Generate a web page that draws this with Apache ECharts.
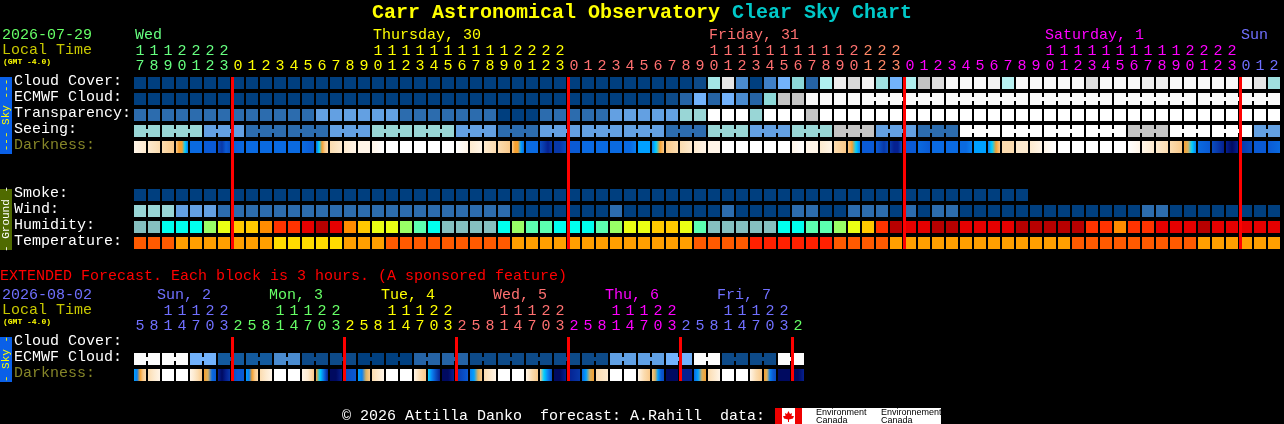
<!DOCTYPE html>
<html><head><meta charset="utf-8">
<style>html,body{margin:0;padding:0;background:#000;overflow:hidden}#c{width:1284px;height:424px}</style>
<script src="https://cdn.jsdelivr.net/npm/echarts@6/dist/echarts.min.js"></script>
</head><body><div id="c"></div>
<script>
// ---------- hourly forecast data ----------
const hours = [17,18,19,20,21,22,23,
 0,1,2,3,4,5,6,7,8,9,10,11,12,13,14,15,16,17,18,19,20,21,22,23,
 0,1,2,3,4,5,6,7,8,9,10,11,12,13,14,15,16,17,18,19,20,21,22,23,
 0,1,2,3,4,5,6,7,8,9,10,11,12,13,14,15,16,17,18,19,20,21,22,23,
 0,1,2];
const hourRows = ['Cloud Cover:','ECMWF Cloud:','Transparency:','Seeing:','Darkness:','','','Smoke:','Wind:','Humidity:','Temperature:'];
const midnights = [7,31,55,79];
const dayNames = [[0,'Wed'],[17,'Thursday, 30'],[41,'Friday, 31'],[65,'Saturday, 1'],[79,'Sun']];
// percent cover
const cloudCover = [0,0,0,0,0,0,0,0,0,0,0,0,0,0,0,0,0,0,0,0,0,0,0,0,0,0,0,0,0,0,0,0,0,0,0,0,0,0,0,0,
 5,45,75,25,0,20,30,35,15,50,80,65,85,40,30,50,60,70,90,90,90,85,55,90,90,90,90,90,70,90,90,90,80,80,90,90,90,90,90,90,75,40];
const ecmwfCloud = [0,0,0,0,0,0,0,0,0,0,0,0,0,0,0,0,0,0,0,0,0,0,0,0,0,0,0,0,0,0,0,0,0,0,0,0,0,0,
 5,15,30,15,30,25,15,35,60,60,
 90,90,90,90,90,90,90,90,90,90,90,90,90,90,90,90,90,90,90,90,90,90,90,90,90,90,90,90,90,90,90,90,90,90];
// sky class 0 best .. 5 worst
const transparency = [1,1,1,1,1,1,1,1,1,1,1,1,1,2,2,2,2,2,2,1,1,1,1,1,1,1,0,0,0,1,1,1,1,1,2,2,2,2,2,3,3,
 5,5,5,3,5,5,5,4,5,5,5,5,5,5,5,5,5,5,5,5,5,5,5,5,5,5,5,5,5,5,5,5,5,5,5,5,5,5,5,5,5];
const seeing = [3,3,3,3,3,2,2,2,1,1,1,1,1,1,2,2,2,3,3,3,3,3,3,2,2,2,1,1,1,2,2,2,2,2,2,2,2,2,1,1,1,3,3,3,2,2,2,3,3,3,
 4,4,4,2,2,2,1,1,1,5,5,5,5,5,5,5,5,5,5,5,5,4,4,4,5,5,5,5,5,5,2,2];
const smoke = [0,0,0,0,0,0,0,0,0,0,0,0,0,0,0,0,0,0,0,0,0,0,0,0,0,0,0,0,0,0,0,0,0,0,0,0,0,0,0,0,0,0,0,0,0,0,0,0,0,0,0,0,0,0,0,0,0,0,0,0,0,0,0,0];
const wind = [3,3,3,2,2,2,
 1,1,1,1,1,1,1,1,1,1,1,1,1,1,1,1,1,1,1,1,1,
 0,0,0,0,0,0,0,1,0,0,0,0,0,0,0,1,0,0,0,0,1,1,0,0,1,
 1,1,0,1,0,1,1,
 0,0,0,0,0,0,0,0,0,0,0,0,0,
 1,1,
 0,0,0,0,0,0,0,0];
const humidity = [30,30,40,40,40,50,55,60,60,65,70,70,85,95,85,65,60,55,55,50,45,
 40,30,30,30,30,40,50,45,45,40,40,40,45,50,55,55,60,60,55,45,
 30,30,30,30,30,40,40,45,45,50,55,
 60,70,95,85,85,95,95,85,85,85,85,95,95,95,95,95,70,70,65,70,70,85,85,85,95,85,85,85,85,85];
const temperature = [30,30,30,25,25,25,25,25,25,25,20,20,20,20,20,25,25,25,30,30,30,
 30,30,30,30,30,30,25,25,25,25,25,25,25,25,25,25,25,25,25,30,30,30,30,
 35,35,35,35,35,35,30,30,30,30,
 25,25,25,25,25,25,25,25,25,25,25,25,25,30,30,30,30,30,30,30,30,30,25,25,25,25,25,25];
// darkness: sky brightness class samples across each hour (0 daylight .. 15 darkest)
const darkness = [[1,2],[2,3],[3,4],[4,5,5,7,9],[10,10],[11,11],[12,13,11,12],[11,10],[10,10],[10,10],[10,10],[10,10],[10,11],
 [10,7,5,4,3],[3,2],[2,1],[1,1],[1,0],[0,0],[0,0],[0,0],[0,0],[0,0],
 [0,1],[2,1],[2,3],[3,4],[4,5,5,8,10],[10,10],[12,13,14,13],[13,13,12],[11,11],[10,10],[10,10],[10,10],[10,10,9],[8,8],[9,7,5,4],
 [4,3],[3,2],[2,1],[1,1],[0,0],[0,0],[0,0],[0,0],[0,0],[1,0],[1,1],[2,1],[3,4],[4,5,7,9],
 [11,11],[11,12,13,12],[13,14,14,12],[11,11],[10,11],[10,10],[10,10],[10,10,9],[8,8],[9,7,5,4],
 [3,3],[2,2],[2,1],[1,0],[0,0],[0,0],[0,0],[0,0],[0,0],[0,1],[1,2],[2,3],[3,4],[5,6,7,9],[10,11],[12,13,14],[14,15,14],[13,12],[11,11],[11,10]];

// ---------- extended forecast data ----------
const extHours = [5,8,11,14,17,20,23,2,5,8,11,14,17,20,23,2,5,8,11,14,17,20,23,2,5,8,11,14,17,20,23,2,5,8,11,14,17,20,23,2,5,8,11,14,17,20,23,2];
const extRows = ['Cloud Cover:','ECMWF Cloud:','Darkness:'];
const extMidnights = [7,15,23,31,39,47];
const extDayNames = [[2,'Sun, 2'],[10,'Mon, 3'],[18,'Tue, 4'],[26,'Wed, 5'],[34,'Thu, 6'],[42,'Fri, 7']];
const extEcmwf = [100,100,100,100,30,30,10,10,10,10,25,25,5,5,5,5,0,0,0,0,15,15,15,15,5,5,5,5,5,5,5,5,5,5,28,28,28,28,30,30,100,100,5,5,5,5,100,100];
const extDarkness = [[8,9,5,4,3],[3,2,1],[0,0],[0,0],[1,2,3,4],[5,6,10,11],[14,15,14,13],[12,11,11],
 [8,9,5,4,3],[3,2,1],[0,0],[0,0],[1,2,4],[5,7,10,14],[15,15,14],[12,11],
 [8,9,6,4],[3,1],[0,0],[0,0],[1,3,4],[7,9,12,14],[15,15,14],[13,11],
 [9,8,6,4],[3,1],[0,0],[0,0],[1,3,4],[4,7,9,12],[15,15,14],[14,13],
 [10,8,6,5],[3,2],[0,0],[0,0],[1,3,4],[4,6,8,11,12],[15,15,15],[14,14],
 [10,8,6,5],[3,1],[0,0],[0,0],[1,3,4],[5,6,9,11,12],[15,15],[15,15,14]];

// ---------- colour scales ----------
const cloudScale = {0:'#003f7f',5:'#0d4a88',10:'#135a9e',15:'#2563a5',20:'#3f80c8',25:'#4a8bcf',28:'#60a0e4',30:'#72b2fb',35:'#8dd8d8',40:'#a0e0e0',45:'#a4e5e5',50:'#b0f0f0',55:'#b8f2f2',60:'#c4c4c4',65:'#d8d8d8',70:'#dddddd',75:'#e6e6e6',80:'#eeeeee',85:'#f2f2f2',90:'#f9f9f9',100:'#fcfcfc'};
const skyScale = ['#003f7f','#2c6cae','#63a0e2','#99d6d6','#c4c4c4','#ffffff'];
const humidityScale = {30:'#85bfbf',40:'#00ffee',45:'#5cffb0',50:'#99ff66',55:'#eaff14',60:'#ffc800',65:'#ff8c00',70:'#ff3300',85:'#e60000',95:'#b80000'};
const tempScale = {20:'#ffdc00',25:'#ff9f00',30:'#ff5a00',35:'#ff2000'};
const darkScale = ['#ffffff','#fff5e8','#fdeacf','#fbdcb0','#f9c98a','#f5a030','#d8b060','#00d0ff','#00a0ff','#0a80f0','#0a6ae0','#0a5ad4','#0a4cc0','#0838a8','#052090','#000a60'];
const MONO = '"Liberation Mono",monospace';
const C = {wed:'#66ff80',thu:'#ffff00',fri:'#ff7070',friLate:'#ff8866',sat:'#ff00ff',sun:'#7070ff',mon:'#66ff66',olive:'#c8c800',dark:'#858528',red:'#ff0000'};

function hourColor(i){ return i<7?C.wed: i<31?C.thu: i<52?C.fri: i<55?C.friLate: i<79?C.sat: C.sun; }
function extUnitColor(i){ return [C.sun,C.mon,C.thu,C.fri,C.sat,C.sun,C.mon][Math.floor((i+1)/8)]; }
function extTensColor(i){ return [C.sun,C.mon,C.thu,C.fri,C.sat,C.sun][Math.floor(i/8)]; }
const tens = h => h>=10 ? String(Math.floor(h/10)) : '';
const units = h => String(h%10);

// horizontal gradient from sample classes
function gradient(s){
  return {type:'linear',x:0,y:0,x2:1,y2:0,global:false,
    colorStops:s.map((v,k)=>({offset:k/(s.length-1),color:darkScale[v]}))};
}
function cellSeries(gridAxis,row,values,fillOf,joined){
  return {type:'custom',xAxisIndex:gridAxis,yAxisIndex:gridAxis===0?0:1,clip:false,silent:true,z:2,
    data:values.map((v,i)=>[i,row]),
    renderItem(p,api){
      const i=api.value(0), c=api.coord([i,api.value(1)]), sz=api.size([1,1]);
      const w=sz[0]-2,h=sz[1]-4,x=c[0]-w/2,y=c[1]-h/2,fill=fillOf(values[i]);
      const kids=[{type:'rect',shape:{x,y,width:w,height:h},style:{fill}}];
      if(joined&&joined(i)) kids.push({type:'rect',shape:{x:x+w,y:y+4,width:2,height:4},style:{fill}});
      return {type:'group',children:kids};
    }};
}
function midnightSeries(axis,list,lastRow){
  return {type:'custom',xAxisIndex:axis,yAxisIndex:axis===0?0:1,clip:false,silent:true,z:5,
    data:list.map(i=>[i,0]),
    renderItem(p,api){
      const c=api.coord([api.value(0),0]),e=api.coord([api.value(0),lastRow]),sz=api.size([1,1]);
      return {type:'rect',shape:{x:c[0]-sz[0]/2,y:c[1]-sz[1]/2+2,width:3,height:e[1]-c[1]+sz[1]-4},style:{fill:C.red}};
    }};
}
function daySeries(axis,list,colors,dx,dy){
  return {type:'custom',xAxisIndex:axis,yAxisIndex:axis===0?0:1,clip:false,silent:true,
    data:list.map((d,k)=>[d[0],0,k]),
    renderItem(p,api){
      const k=api.value(2),c=api.coord([api.value(0),0]);
      return {type:'text',style:{x:c[0]+dx,y:c[1]+dy,text:list[k][1],fill:colors[k],font:'15px '+MONO,verticalAlign:'middle'}};
    }};
}
function xAxisFor(grid,labels,margin,colorFn){
  return {type:'category',gridIndex:grid,position:'top',data:labels,boundaryGap:true,
    axisLine:{show:false},axisTick:{show:false},splitLine:{show:false},
    axisLabel:{show:true,interval:0,margin,color:(v,i)=>colorFn(i),fontFamily:MONO,fontSize:15,verticalAlign:'middle',hideOverlap:false}};
}
const rowText = {fontFamily:MONO,fontSize:15,padding:[0,0,4,0]};
function yAxisFor(grid,labels){
  return {type:'category',gridIndex:grid,inverse:true,data:labels,
    axisLine:{show:false},axisTick:{show:false},splitLine:{show:false},
    axisLabel:{show:true,interval:0,margin:119,align:'left',verticalAlign:'middle',hideOverlap:false,
      formatter:v=>v?(v==='Darkness:'?'{d|'+v+'}':'{w|'+v+'}'):'',
      rich:{w:Object.assign({color:'#ffffff'},rowText),d:Object.assign({color:C.dark},rowText)}}};
}
const sky = v=>skyScale[v], cloud=v=>cloudScale[v];
const seeingJoin = i=>(i-1)%3!==0 && i<81;
const ecmwfJoin = i=>i>=52 && i<81 && (i-51)%6!==0;
const extJoin = i=>i%2===0;

const option = {
  backgroundColor:'#000',animation:false,
  grid:[{left:133,top:75,width:1148,height:176},{left:133,top:335,width:672,height:48}],
  title:{left:372,top:1,padding:0,text:'{a|Carr Astronomical Observatory }{b|Clear Sky Chart}',
    textStyle:{rich:{a:{color:'#ffff00',fontFamily:MONO,fontSize:20,fontWeight:'bold',lineHeight:24},
                     b:{color:'#00c8c8',fontFamily:MONO,fontSize:20,fontWeight:'bold',lineHeight:24}}}},
  xAxis:[xAxisFor(0,hours.map(units),9,hourColor),
         xAxisFor(1,extHours.map(units),9,extUnitColor),
         xAxisFor(0,hours.map(tens),24,hourColor),
         xAxisFor(1,extHours.map(tens),24,extTensColor)],
  yAxis:[yAxisFor(0,hourRows),yAxisFor(1,extRows)],
  series:[
    cellSeries(0,0,cloudCover,cloud),
    cellSeries(0,1,ecmwfCloud,cloud,ecmwfJoin),
    cellSeries(0,2,transparency,sky),
    cellSeries(0,3,seeing,sky,seeingJoin),
    cellSeries(0,4,darkness,gradient),
    cellSeries(0,7,smoke,sky),
    cellSeries(0,8,wind,sky),
    cellSeries(0,9,humidity,v=>humidityScale[v]),
    cellSeries(0,10,temperature,v=>tempScale[v]),
    midnightSeries(0,midnights,10),
    daySeries(0,dayNames,[C.wed,C.thu,C.fri,C.sat,C.sun],-5,-48),
    cellSeries(1,1,extEcmwf,cloud,extJoin),
    cellSeries(1,2,extDarkness,gradient),
    midnightSeries(1,extMidnights,2),
    daySeries(1,extDayNames,[C.sun,C.mon,C.thu,C.fri,C.sat,C.sun],-11,-48)
  ],
  graphic:{elements:[
    ...[['2026-07-29',2,35,'#66ff66'],['Local Time',2,50,C.olive],
        ['2026-08-02',2,295,'#7070ff'],['Local Time',2,310,C.olive],
        ['EXTENDED Forecast. Each block is 3 hours. (A sponsored feature)',0,276,C.red],
        ['\u00a9 2026 Attilla Danko  forecast: A.Rahill  data:',342,416,'#ffffff']
       ].map(t=>({type:'text',x:t[1],y:t[2],style:{text:t[0],fill:t[3],font:'15px '+MONO,verticalAlign:'middle'}})),
    ...[62,322].map(y=>({type:'text',x:3,y,style:{text:'(GMT -4.0)',fill:'#ffff00',font:'bold 8px '+MONO,verticalAlign:'middle'}})),
    {type:'rect',shape:{x:0,y:77,width:12,height:77},style:{fill:'#0a60e8'}},
    {type:'rect',shape:{x:0,y:189,width:12,height:61},style:{fill:'#4f6a00'}},
    {type:'rect',shape:{x:0,y:337,width:12,height:45},style:{fill:'#0a60e8'}},
    {type:'text',x:6,y:115,rotation:Math.PI/2,style:{text:'--- Sky ---',fill:'#ffff00',font:'11px '+MONO,align:'center',verticalAlign:'middle'}},
    {type:'text',x:6,y:219,rotation:Math.PI/2,style:{text:'- Ground -',fill:'#ffffff',font:'11px '+MONO,align:'center',verticalAlign:'middle'}},
    {type:'text',x:6,y:359,rotation:Math.PI/2,style:{text:'- Sky -',fill:'#ffff00',font:'11px '+MONO,align:'center',verticalAlign:'middle'}},
    {type:'rect',shape:{x:775,y:408,width:166,height:16},style:{fill:'#ffffff'}},
    {type:'rect',shape:{x:775,y:408,width:7,height:16},style:{fill:'#ee0000'}},
    {type:'rect',shape:{x:795,y:408,width:7,height:16},style:{fill:'#ee0000'}},
    {type:'polygon',shape:{points:[[788.5,411],[790,414],[792,413],[791.5,416],[794,416],[793,418.5],[789,419.5],[789,422],[788,422],[788,419.5],[784,418.5],[783,416],[785.5,416],[785,413],[787,414]]},style:{fill:'#ee0000'}},
    ...[['Environment',816,413],['Canada',816,421],['Environnement',881,413],['Canada',881,421]].map(t=>
      ({type:'text',x:t[1],y:t[2],style:{text:t[0],fill:'#000',font:'9px "Liberation Sans",sans-serif',verticalAlign:'middle'}}))
  ]}
};
const chart = echarts.init(document.getElementById('c'),null,{renderer:'canvas',width:1284,height:424});
chart.setOption(option);
</script></body></html>
